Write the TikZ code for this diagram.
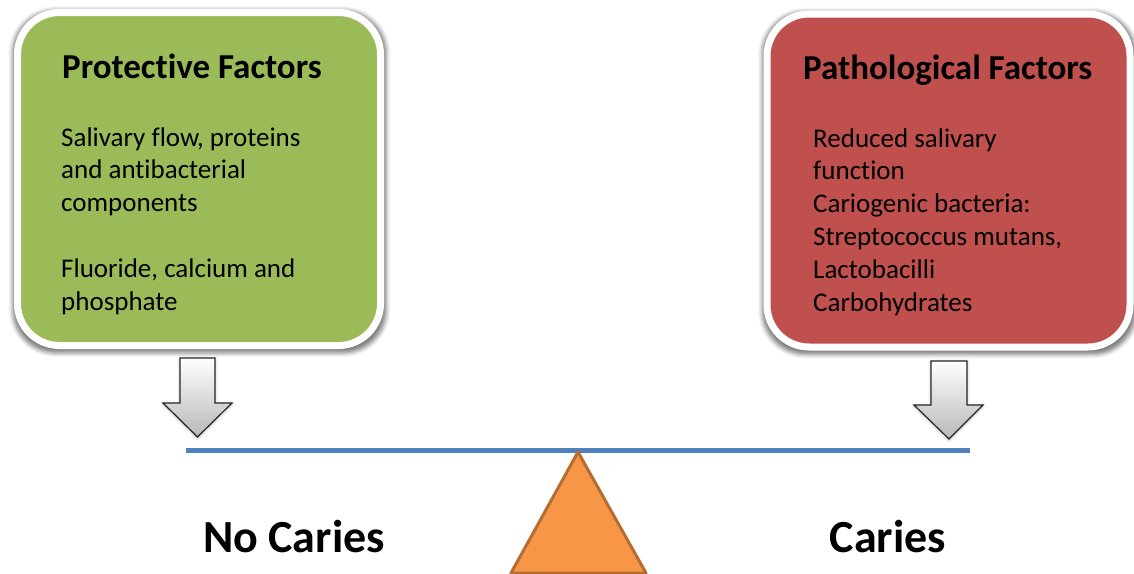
\documentclass[tikz,border=0pt]{standalone}
\usepackage{fontspec}
\setmainfont{Carlito}[Ligatures=NoCommon]
\usepackage{tikz}
\usepackage{xcolor}
\usetikzlibrary{shadows, shadows.blur, positioning}
\definecolor{protgreen}{HTML}{9BBB59}
\definecolor{pathred}{HTML}{C0504D}
\definecolor{beamblue}{HTML}{4F81BD}
\definecolor{fulcrumorange}{HTML}{F79646}
\definecolor{fulcrumedge}{HTML}{B66D31}
\tikzstyle{factorbox} = [rectangle,
rounded corners=42pt,
draw=white, line width=7pt,
minimum width=363pt,
minimum height=333pt,
blur shadow={shadow xshift=0.5pt, shadow yshift=-2.5pt, shadow scale=1.03, shadow blur radius=4pt, shadow opacity=50}]
\tikzstyle{blockarrow} = [draw=black!85, line width=1.2pt, top color=white, bottom color=black!28, line join=miter,
blur shadow={shadow xshift=0pt, shadow yshift=-1pt, shadow blur radius=3pt, shadow opacity=30}]

\begin{document}
\begin{tikzpicture}[x=1pt, y=-1pt,
        boxtitle/.style={anchor=base west, inner sep=0pt, font=\fontsize{35}{42}\selectfont\bfseries},
        boxtext/.style={anchor=base west, inner sep=0pt, align=left, font=\fontsize{27}{32.8}\selectfont},
        outcome/.style={anchor=base, inner sep=0pt, font=\fontsize{46}{55}\selectfont\bfseries},
    ]
        \useasboundingbox (0,0) rectangle (1134,573);

        \node[factorbox, fill=protgreen] (protbox) at (199,179) {};
        \node[factorbox, fill=pathred] (pathbox) at (948.5,180.5) {};

        % base anchor sits on the last line
        \node[boxtitle] (prottitle) at (62,78) {Protective Factors};
        \node[boxtext] (protlist) at (61,310) {Salivary flow, proteins\\and antibacterial\\components\\[32.8pt]Fluoride, calcium and\\phosphate};

        \node[boxtitle] (pathtitle) at (803,79) {Pathological Factors};
        \node[boxtext] (pathlist) at (813,311) {Reduced salivary\\function\\Cariogenic bacteria:\\Streptococcus mutans,\\Lactobacilli\\Carbohydrates};

        \draw[blockarrow] (180,358) -- (215,358) -- (215,403) -- (232,403) -- (197.5,437) -- (163,403) -- (180,403) -- cycle;
        \draw[blockarrow] (931,361) -- (967,361) -- (967,405) -- (983,405) -- (949,439) -- (914,405) -- (931,405) -- cycle;

        \draw[beamblue, line width=5pt] (186,450.5) -- (970,450.5);
        \draw[fill=fulcrumorange, draw=fulcrumedge, line width=3pt, line join=round] (578,452) -- (646,573) -- (511,573) -- cycle;

        \node[outcome] (nocaries) at (294,552) {No Caries};
        \node[outcome] (caries) at (888,552) {Caries};
    \end{tikzpicture}
\end{document}
